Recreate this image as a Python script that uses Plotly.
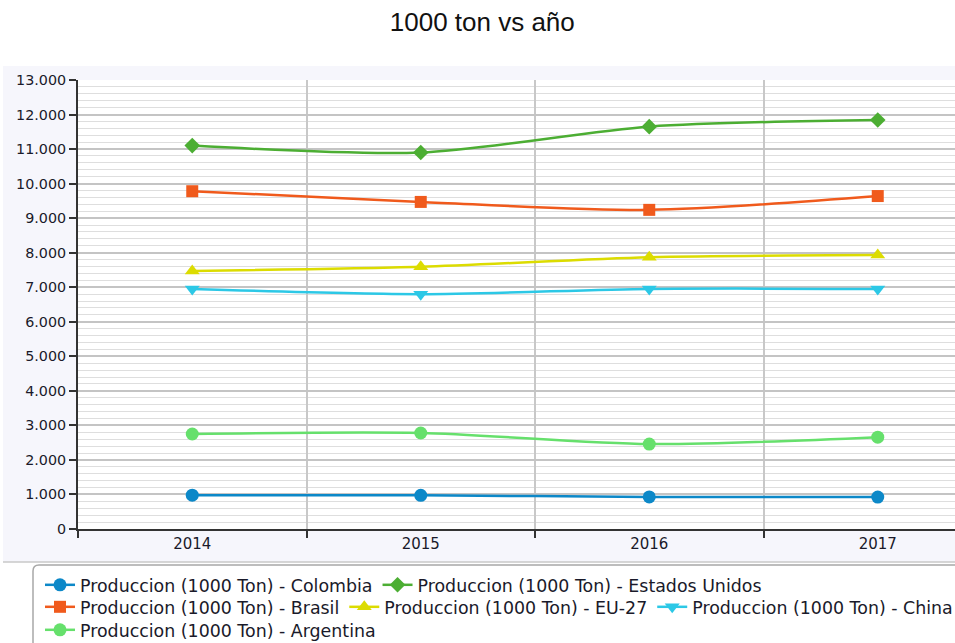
import plotly.graph_objects as go

years = ["2014", "2015", "2016", "2017"]
colombia = [980, 975, 930, 925]
estados_unidos = [11100, 10900, 11650, 11840]
brasil = [9780, 9470, 9240, 9640]
eu27 = [7470, 7590, 7870, 7930]
china = [6950, 6800, 6950, 6950]
argentina = [2750, 2780, 2460, 2660]

series = [
    ("Produccion (1000 Ton) - Colombia", colombia, "#0c88c8", "circle", 13, "legend"),
    ("Produccion (1000 Ton) - Estados Unidos", estados_unidos, "#4cae33", "diamond", 12, "legend"),
    ("Produccion (1000 Ton) - Brasil", brasil, "#f05a1c", "square", 12, "legend2"),
    ("Produccion (1000 Ton) - EU-27", eu27, "#dcdc00", "triangle-up", 13, "legend2"),
    ("Produccion (1000 Ton) - China", china, "#2cc8e6", "triangle-down", 13, "legend2"),
    ("Produccion (1000 Ton) - Argentina", argentina, "#66e06c", "circle", 13, "legend3"),
]

fig = go.Figure()
for name, vals, color, sym, size, leg in series:
    fig.add_trace(go.Scatter(
        x=years, y=vals, name=name, mode="lines+markers",
        line=dict(color=color, width=2.5, shape="spline", smoothing=0.8),
        marker=dict(color=color, symbol=sym, size=size),
        legend=leg,
    ))

L, T, B = 78, 80, 529
W, H = 955, 643
pw, ph = W - L, B - T

def px(x):
    return (x - L) / pw

def py(y):
    return (B - y) / ph

legend_font = dict(family="DejaVu Sans", size=17.4, color="#1a1a2a")
common_leg = dict(orientation="h", font=legend_font, bgcolor="rgba(0,0,0,0)",
                  borderwidth=0, xanchor="left", yanchor="middle", x=px(40),
                  tracegroupgap=0, itemclick=False)

# rounded legend border path (paper coords)
x0, x1, y0, y1, r = 33, 975, 565, 660, 6
path = (f"M {px(x0 + r)} {py(y0)} L {px(x1)} {py(y0)} L {px(x1)} {py(y1)} "
        f"L {px(x0)} {py(y1)} L {px(x0)} {py(y0 + r)} "
        f"Q {px(x0)} {py(y0)} {px(x0 + r)} {py(y0)} Z")

fig.update_layout(
    width=W, height=H,
    margin=dict(l=L, r=0, t=T, b=H - B, autoexpand=False),
    paper_bgcolor="white",
    plot_bgcolor="white",
    separators=",.",
    title=dict(text="1000 ton vs año", x=0.505, xref="container", xanchor="center",
               y=1 - 22 / H, yref="container", yanchor="middle",
               font=dict(family="Liberation Sans", size=26, color="#111111")),
    xaxis=dict(
        type="category", range=[-0.5, -0.5 + pw / 228.5],
        tickson="boundaries", ticks="outside", ticklen=7, tickwidth=2, tickcolor="#333333",
        showline=True, linecolor="#333333", linewidth=2,
        showgrid=True, gridcolor="#c8c8c8", gridwidth=2,
        tickfont=dict(family="DejaVu Sans", size=15, color="#1a1a2a"),
        fixedrange=True,
    ),
    yaxis=dict(
        range=[0, 13000], dtick=1000, tick0=0, tickformat=",d",
        ticks="outside", ticklen=7, tickwidth=2, tickcolor="#333333",
        showline=True, linecolor="#333333", linewidth=2,
        showgrid=True, gridcolor="#c4c4c4", gridwidth=1.5,
        zeroline=False,
        minor=dict(dtick=200, showgrid=True, gridcolor="#dedede", gridwidth=1.2, ticks=""),
        tickfont=dict(family="DejaVu Sans", size=14.3, color="#1a1a2a"),
        fixedrange=True,
    ),
    legend=dict(y=py(585), **common_leg),
    legend2=dict(y=py(607), **common_leg),
    legend3=dict(y=py(630), **common_leg),
    shapes=[
        dict(type="rect", xref="paper", yref="paper", x0=px(3), x1=px(W + 5),
             y0=py(562), y1=py(66), fillcolor="#f6f6fc", line=dict(width=0), layer="below"),
        dict(type="rect", xref="paper", yref="paper", x0=0, x1=1, y0=0, y1=1,
             fillcolor="white", line=dict(width=0), layer="below"),
        dict(type="line", xref="paper", yref="paper", x0=px(3), x1=px(W + 5),
             y0=py(562), y1=py(562), line=dict(color="#c8c8c8", width=1.5), layer="below"),
        dict(type="path", xref="paper", yref="paper", path=path,
             line=dict(color="#a8a8a8", width=1.5), fillcolor="rgba(0,0,0,0)", layer="above"),
    ],
    showlegend=True,
)

fig.write_html(
    "out.html",
    config={"displayModeBar": False},
    post_script="document.body.style.margin='0';document.body.style.overflow='hidden';",
)
